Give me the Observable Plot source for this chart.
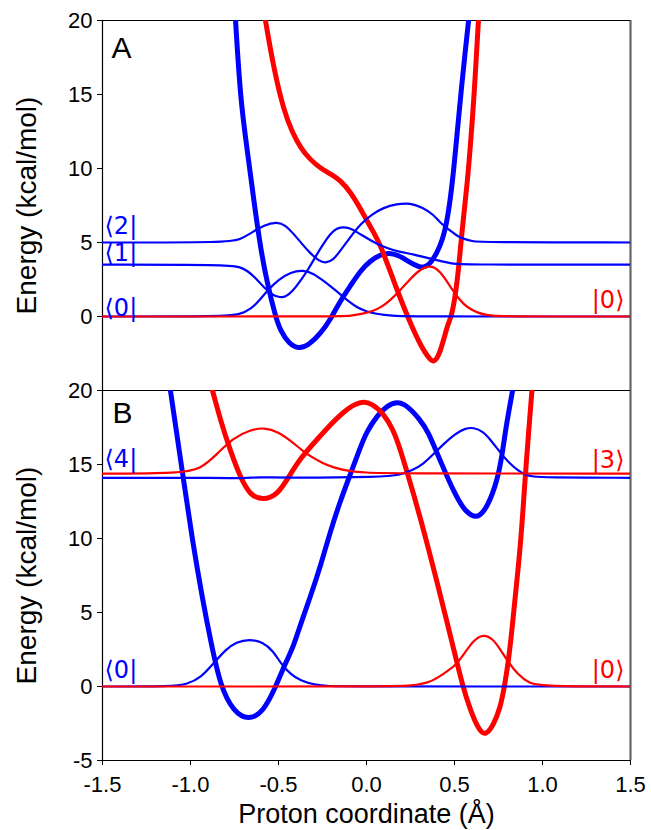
<!DOCTYPE html>
<html><head><meta charset="utf-8">
<script src="https://cdn.jsdelivr.net/npm/d3@7"></script>
<script src="https://cdn.jsdelivr.net/npm/@observablehq/plot@0.6"></script>
<style>
body{margin:0;background:#fff;}
#chart{position:relative;width:651px;height:830px;font-family:"Liberation Sans",Arial,sans-serif;}
#chart svg{position:absolute;left:0;overflow:visible;}
</style></head><body><div id="chart"></div>
<script>
// ---- axes ----
const xDomain = [-1.5, 1.5];
const yDomain = [-5, 20];
const xTicks = [-1.5, -1.0, -0.5, 0.0, 0.5, 1.0, 1.5];
const yTicksA = [0, 5, 10, 15, 20];
const yTicksB = [-5, 0, 5, 10, 15, 20];
const xTitle = "Proton coordinate (Å)";
const yTitle = "Energy (kcal/mol)";

// ---- Panel A ----
const aBluePotential = [[-0.744,20],[-0.716,14.6],[-0.677,11.2],[-0.64,7.8],[-0.60,4.46],[-0.563,2.2],[-0.517,0],[-0.49,-0.95],[-0.44,-1.85],[-0.385,-2.2],[-0.33,-1.95],[-0.26,-1.15],[-0.2,-0.1],[-0.148,1.08],[-0.09,2.1],[-0.034,3.1],[0.02,3.75],[0.08,4.2],[0.13,4.3],[0.18,4.15],[0.22,3.85],[0.27,3.5],[0.307,3.3],[0.34,3.4],[0.364,3.6],[0.40,4.3],[0.43,5.1],[0.46,6.5],[0.49,9.2],[0.515,12.4],[0.54,15.5],[0.56,17.8],[0.58,20]];
const aRedPotential = [[-0.574,20],[-0.528,16.8],[-0.47,13.9],[-0.42,12.4],[-0.375,11.4],[-0.32,10.6],[-0.26,10.0],[-0.2,9.6],[-0.148,9.2],[-0.09,8.4],[-0.04,7.4],[0.006,6.4],[0.04,5.7],[0.08,4.8],[0.12,3.5],[0.155,2.4],[0.19,1.3],[0.23,0.1],[0.27,-1.0],[0.31,-2.0],[0.35,-2.75],[0.38,-3.15],[0.41,-2.7],[0.44,-1.5],[0.465,-0.4],[0.485,0],[0.517,2.4],[0.534,4.7],[0.553,6.9],[0.574,9.2],[0.59,11.5],[0.61,14.6],[0.636,20]];
const aBlueLevel0 = [[-1.5,0],[-0.8,0],[-0.72,0.15],[-0.66,0.45],[-0.6,1.2],[-0.563,1.75],[-0.5,2.5],[-0.43,3.0],[-0.36,3.15],[-0.3,2.9],[-0.244,2.4],[-0.2,2.0],[-0.148,1.5],[-0.1,1.0],[-0.053,0.6],[0.0,0.33],[0.05,0.2],[0.1,0.1],[0.16,0.04],[0.25,0],[1.5,0]];
const aBlueLevel1 = [[-1.5,3.5],[-0.79,3.5],[-0.72,3.35],[-0.677,3.1],[-0.63,2.6],[-0.585,2.0],[-0.54,1.5],[-0.5,1.3],[-0.46,1.3],[-0.42,1.7],[-0.375,2.4],[-0.33,3.2],[-0.28,4.25],[-0.24,5.0],[-0.205,5.6],[-0.17,5.95],[-0.137,6.05],[-0.1,6.0],[-0.053,5.7],[0.0,5.3],[0.06,4.9],[0.12,4.6],[0.19,4.35],[0.27,4.2],[0.345,3.95],[0.42,3.75],[0.48,3.58],[0.56,3.5],[1.5,3.5]];
const aBlueLevel2 = [[-1.5,5.0],[-0.78,5.0],[-0.72,5.2],[-0.66,5.6],[-0.58,6.2],[-0.506,6.4],[-0.46,6.15],[-0.415,5.6],[-0.37,4.95],[-0.318,4.25],[-0.27,3.75],[-0.233,3.6],[-0.19,3.8],[-0.148,4.45],[-0.09,5.4],[-0.034,6.25],[0.03,6.9],[0.097,7.36],[0.17,7.6],[0.25,7.68],[0.32,7.35],[0.38,6.9],[0.42,6.3],[0.477,5.8],[0.52,5.4],[0.553,5.25],[0.6,5.08],[0.65,5.02],[1.5,5.0]];
const aRedLevel0 = [[-1.5,0],[-0.15,0],[-0.09,0.05],[-0.02,0.18],[0.04,0.38],[0.08,0.6],[0.136,1.1],[0.19,1.75],[0.25,2.55],[0.3,3.15],[0.364,3.5],[0.42,3.05],[0.477,2.0],[0.53,1.1],[0.574,0.6],[0.63,0.25],[0.69,0.07],[0.75,0],[1.5,0]];
const aLeftLabels = ["⟨0|", "⟨1|", "⟨2|"];
const aLeftEnergies = [0, 3.5, 5.0];
const aRightLabels = ["|0⟩"];
const aRightEnergies = [0];

// ---- Panel B ----
const bBluePotential = [[-1.114,20],[-1.045,14.4],[-0.99,9.9],[-0.93,5.8],[-0.886,3.1],[-0.83,0],[-0.756,-1.7],[-0.67,-2.3],[-0.585,-1.7],[-0.515,0],[-0.46,1.6],[-0.415,2.7],[-0.375,4.2],[-0.318,6.1],[-0.26,8.2],[-0.205,10.5],[-0.15,12.5],[-0.09,14.4],[-0.04,16.0],[0.0,17.2],[0.06,18.3],[0.12,19.0],[0.175,19.25],[0.23,19.0],[0.307,18.0],[0.35,17.2],[0.40,15.8],[0.45,14.4],[0.495,13.2],[0.55,12.0],[0.60,11.5],[0.64,11.45],[0.69,12.2],[0.743,13.9],[0.77,15.6],[0.79,17.3],[0.81,18.7],[0.83,20]];
const bRedPotential = [[-0.875,20],[-0.83,18.0],[-0.773,15.9],[-0.716,14.1],[-0.66,12.9],[-0.59,12.6],[-0.506,12.9],[-0.43,14.4],[-0.375,15.4],[-0.318,16.2],[-0.22,17.5],[-0.13,18.6],[-0.035,19.3],[0.03,19.15],[0.1,18.4],[0.15,17.4],[0.19,16.1],[0.23,14.5],[0.27,12.9],[0.31,11.2],[0.35,9.4],[0.40,7.1],[0.45,4.7],[0.50,2.3],[0.545,0.1],[0.59,-1.6],[0.636,-2.9],[0.676,-3.35],[0.722,-2.6],[0.761,-1.4],[0.784,0],[0.807,1.75],[0.828,4.0],[0.847,6.3],[0.87,8.9],[0.89,12.0],[0.903,14.4],[0.92,17.0],[0.94,20]];
const bBlueLevel0 = [[-1.5,0],[-1.1,0],[-1.02,0.15],[-0.94,0.6],[-0.87,1.55],[-0.8,2.5],[-0.74,3.0],[-0.665,3.2],[-0.59,3.0],[-0.53,2.4],[-0.49,1.6],[-0.43,0.8],[-0.375,0.4],[-0.3,0.12],[-0.2,0.02],[-0.15,0],[1.5,0]];
const bBlueLevel4 = [[-1.5,14.1],[-0.8,14.1],[-0.7,14.06],[-0.6,14.16],[-0.5,14.1],[0.1,14.15],[0.19,14.3],[0.26,14.6],[0.325,15.05],[0.38,15.7],[0.44,16.4],[0.5,17.05],[0.56,17.45],[0.61,17.5],[0.66,17.25],[0.71,16.6],[0.76,15.8],[0.81,15.1],[0.86,14.6],[0.9,14.3],[0.95,14.18],[1.0,14.12],[1.5,14.1]];
const bRedLevel3 = [[-1.5,14.38],[-1.06,14.4],[-0.94,14.7],[-0.85,15.7],[-0.756,16.8],[-0.66,17.35],[-0.58,17.5],[-0.5,17.2],[-0.43,16.6],[-0.36,15.9],[-0.318,15.55],[-0.25,15.1],[-0.19,14.8],[-0.1,14.55],[0.0,14.45],[0.1,14.4],[1.5,14.38]];
const bRedLevel0 = [[-1.5,0],[0.15,0],[0.25,0.05],[0.364,0.27],[0.43,0.8],[0.506,1.4],[0.56,2.3],[0.61,3.15],[0.665,3.55],[0.72,3.2],[0.76,2.5],[0.8,1.75],[0.86,0.8],[0.925,0.2],[1.0,0.02],[1.5,0]];
const bLeftLabels = ["⟨0|", "⟨4|"];
const bLeftEnergies = [0, 14.1];
const bRightLabels = ["|0⟩", "|3⟩"];
const bRightEnergies = [0, 14.38];

const BLUE = "#0000ff", RED = "#ff0000";
const FONT = "'Liberation Sans', Arial, sans-serif";

function curve(data, stroke, strokeWidth) {
  return Plot.line(data, {x: d => d[0], y: d => d[1], stroke, strokeWidth, curve: "basis", clip: true});
}
function levelLabels(labels, energies, side, color, nudges) {
  return labels.map((t, i) => Plot.text([t], {
    x: () => side === "left" ? xDomain[0] : xDomain[1],
    y: () => energies[i],
    text: d => d,
    dx: side === "left" ? 2 : -6,
    dy: nudges[i],
    textAnchor: side === "left" ? "start" : "end",
    lineAnchor: "bottom",
    fill: color, fontSize: 24,
    fontFamily: "'DejaVu Sans', 'Liberation Sans', sans-serif"
  }));
}
function frameMarks() {
  return [
    Plot.ruleX([xDomain[0]], {stroke: "black", strokeWidth: 1.2}),
    Plot.ruleX([xDomain[1]], {stroke: "#666", strokeWidth: 2.2}),
    Plot.ruleY([yDomain[1]], {stroke: "black", strokeWidth: 1}),
    Plot.ruleY([yDomain[0]], {stroke: "black", strokeWidth: 1.2})
  ];
}

const chart = document.getElementById("chart");

const plotA = Plot.plot({
  width: 651, height: 390,
  marginLeft: 102, marginRight: 21, marginTop: 20, marginBottom: 0,
  x: {domain: xDomain, axis: null},
  y: {domain: yDomain},
  style: {background: "transparent", overflow: "visible", fontFamily: FONT, color: "black"},
  marks: [
    Plot.axisY(yTicksA, {tickSize: 5, tickPadding: 5, fontSize: 22, tickFormat: d => String(d), label: null}),
    ...frameMarks(),
    curve(aBluePotential, BLUE, 5),
    curve(aRedPotential, RED, 5),
    curve(aBlueLevel2, BLUE, 2.2),
    curve(aBlueLevel1, BLUE, 2.2),
    curve(aBlueLevel0, BLUE, 2.2),
    curve(aRedLevel0, RED, 2.2),
    ...levelLabels(aLeftLabels, aLeftEnergies, "left", BLUE, [-1, -4, -9]),
    ...levelLabels(aRightLabels, aRightEnergies, "right", RED, [-9]),
    Plot.text(["A"], {frameAnchor: "top-left", dx: 9, dy: 16, lineAnchor: "top", textAnchor: "start", fontSize: 30}),
    Plot.text([yTitle], {frameAnchor: "left", rotate: -90, dx: -75, textAnchor: "middle", fontSize: 28})
  ]
});
plotA.style.top = "0px";
chart.appendChild(plotA);

const plotB = Plot.plot({
  width: 651, height: 460,
  marginLeft: 102, marginRight: 21, marginTop: 20, marginBottom: 70,
  x: {domain: xDomain},
  y: {domain: yDomain},
  style: {background: "transparent", overflow: "visible", fontFamily: FONT, color: "black"},
  marks: [
    Plot.axisY(yTicksB, {tickSize: 5, tickPadding: 5, fontSize: 22, tickFormat: d => String(d), label: null}),
    Plot.axisX(xTicks, {tickSize: 5, tickPadding: 11, fontSize: 22, tickFormat: d => d.toFixed(1), label: null}),
    ...frameMarks(),
    curve(bBluePotential, BLUE, 5),
    curve(bRedPotential, RED, 5),
    curve(bBlueLevel4, BLUE, 2.2),
    curve(bBlueLevel0, BLUE, 2.2),
    curve(bRedLevel3, RED, 2.2),
    curve(bRedLevel0, RED, 2.2),
    ...levelLabels(bLeftLabels, bLeftEnergies, "left", BLUE, [-9, -11]),
    ...levelLabels(bRightLabels, bRightEnergies, "right", RED, [-9, -6]),
    Plot.text(["B"], {frameAnchor: "top-left", dx: 10, dy: 11, lineAnchor: "top", textAnchor: "start", fontSize: 30}),
    Plot.text([yTitle], {frameAnchor: "left", rotate: -90, dx: -75, textAnchor: "middle", fontSize: 28}),
    Plot.text([xTitle], {frameAnchor: "bottom", dy: 62, lineAnchor: "bottom", fontSize: 27})
  ]
});
plotB.style.top = "370px";
chart.appendChild(plotB);
</script></body></html>
